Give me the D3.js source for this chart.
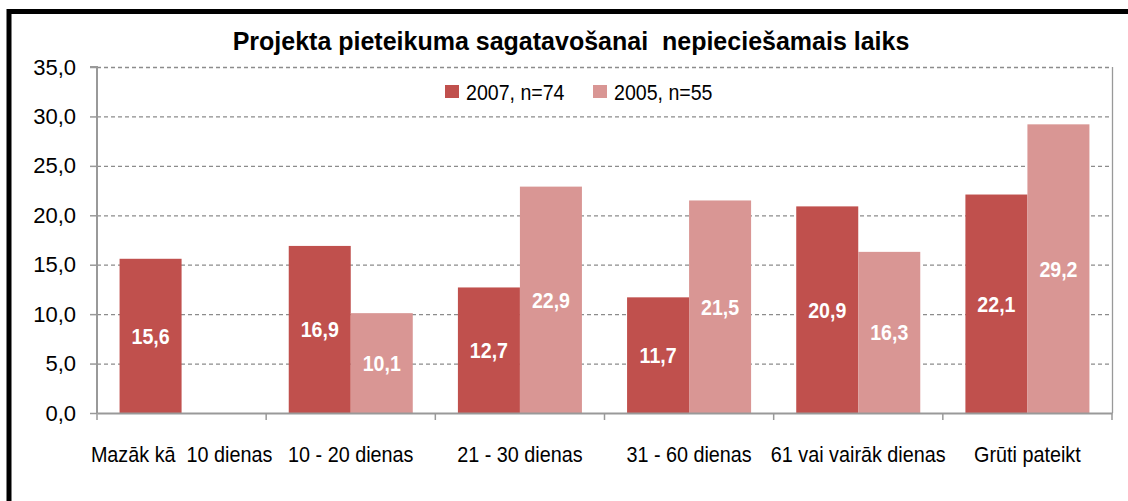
<!DOCTYPE html>
<html><head><meta charset="utf-8">
<script src="https://cdn.jsdelivr.net/npm/d3@7"></script>
<style>
html,body{margin:0;padding:0;background:#fff;}
svg{display:block;}
text{font-family:"Liberation Sans Narrow","Arial Narrow","Liberation Sans",Arial,sans-serif;}
</style></head>
<body>
<svg id="chart" width="1128" height="501"></svg>
<script>
const title = "Projekta pieteikuma sagatavošanai  nepieciešamais laiks";
const categories = ["Mazāk kā  10 dienas","10 - 20 dienas","21 - 30 dienas","31 - 60 dienas","61 vai vairāk dienas","Grūti pateikt"];
const seriesNames = ["2007, n=74","2005, n=55"];
const values2007 = [15.6,16.9,12.7,11.7,20.9,22.1];
const values2005 = [null,10.1,22.9,21.5,16.3,29.2];
const yTicks = [0,5,10,15,20,25,30,35];
const colors = ["#C0504D","#D99694"];

const svg = d3.select("#chart");
// outer frame
svg.append("rect").attr("x",9).attr("y",11.5).attr("width",1140).attr("height",520)
  .attr("fill","none").attr("stroke","#000").attr("stroke-width",5);

const m = {left:97, top:67, right:1112, bottom:413};
const x0 = d3.scaleBand().domain(categories).range([m.left,m.right]).paddingInner(0).paddingOuter(0);
const x1 = d3.scaleBand().domain(seriesNames).range([0,x0.bandwidth()]).paddingInner(0).paddingOuter(0.364);
const y = d3.scaleLinear().domain([0,35]).range([m.bottom,m.top]);

// condensed text helper
function ctext(parent, x, yy, sx){
  return parent.append("g").attr("transform",`translate(${x},${yy}) scale(${sx},1)`).append("text");
}

// gridlines
svg.append("g").selectAll("line").data(yTicks.filter(d=>d>0)).join("line")
  .attr("x1",m.left).attr("x2",m.right).attr("y1",d=>y(d)+0.5).attr("y2",d=>y(d)+0.5)
  .attr("stroke","#8c8c8c").attr("stroke-width",1.3).attr("stroke-dasharray","4,3");
// right border of plot
svg.append("line").attr("x1",m.right+0.5).attr("x2",m.right+0.5).attr("y1",m.top).attr("y2",m.bottom)
  .attr("stroke","#999").attr("stroke-width",1.3);

// bars
const data = categories.map((c,i)=>({cat:c, vals:[values2007[i],values2005[i]]}));
const groups = svg.append("g").selectAll("g").data(data).join("g")
  .attr("transform",d=>`translate(${x0(d.cat)},0)`);
const bars = groups.selectAll("g").data(d=>d.vals.map((v,j)=>({s:seriesNames[j],v,j})).filter(e=>e.v!=null)).join("g");
bars.append("rect")
  .attr("x",d=>x1(d.s)).attr("width",x1.bandwidth())
  .attr("y",d=>y(d.v)).attr("height",d=>y(0)-y(d.v))
  .attr("fill",d=>colors[d.j]);
bars.each(function(d){
  ctext(d3.select(this), x1(d.s)+x1.bandwidth()/2, (y(d.v)+y(0))/2, 0.89)
    .attr("dy","0.36em").attr("text-anchor","middle")
    .attr("fill","#fff").attr("font-weight","bold").attr("font-size",22)
    .text(d3.format(".1f")(d.v).replace(".",","));
});

// y axis
const yAxis = d3.axisLeft(y).tickValues(yTicks).tickSize(7).tickPadding(14)
  .tickFormat(d=>d3.format(".1f")(d).replace(".",","));
const gy = svg.append("g").attr("transform",`translate(${m.left},0)`).call(yAxis);
gy.select(".domain").attr("stroke","#999").attr("stroke-width",2).attr("d",`M-7,${m.top}H0V${m.bottom}`);
gy.selectAll(".tick line").attr("stroke","#999").attr("stroke-width",1.5);
gy.selectAll(".tick text").attr("font-size",22).attr("fill","#000")
  .style("font-family",'"Liberation Sans Narrow","Arial Narrow","Liberation Sans",Arial,sans-serif');

// x axis
const xAxis = d3.axisBottom(x0).tickSize(0).tickFormat("");
const gx = svg.append("g").attr("transform",`translate(0,${m.bottom})`).call(xAxis);
gx.select(".domain").attr("stroke","#999").attr("stroke-width",2);
const bounds = categories.map(c=>x0(c)).concat([m.right]);
svg.append("g").selectAll("line").data(bounds).join("line")
  .attr("x1",d=>d).attr("x2",d=>d).attr("y1",m.bottom).attr("y2",m.bottom+7)
  .attr("stroke","#999").attr("stroke-width",1.5);
const gxl = svg.append("g");
categories.forEach(c=>{
  ctext(gxl, x0(c)+x0.bandwidth()/2, 462, 0.9)
    .attr("text-anchor","middle").attr("font-size",22).attr("fill","#000")
    .attr("xml:space","preserve").style("white-space","pre").text(c);
});

// title
svg.append("text").attr("x",571).attr("y",50).attr("text-anchor","middle")
  .attr("font-size",25).attr("font-weight","bold").attr("fill","#000")
  .attr("xml:space","preserve").style("white-space","pre").text(title);

// legend
const legendX = [445,593];
seriesNames.forEach((s,i)=>{
  const g = svg.append("g").attr("transform",`translate(${legendX[i]},85)`);
  g.append("rect").attr("width",14).attr("height",13).attr("fill",colors[i]);
  ctext(g, 21, 7, 0.89).attr("dy","0.36em").attr("font-size",22).attr("fill","#000").text(s);
});
</script>
</body></html>
